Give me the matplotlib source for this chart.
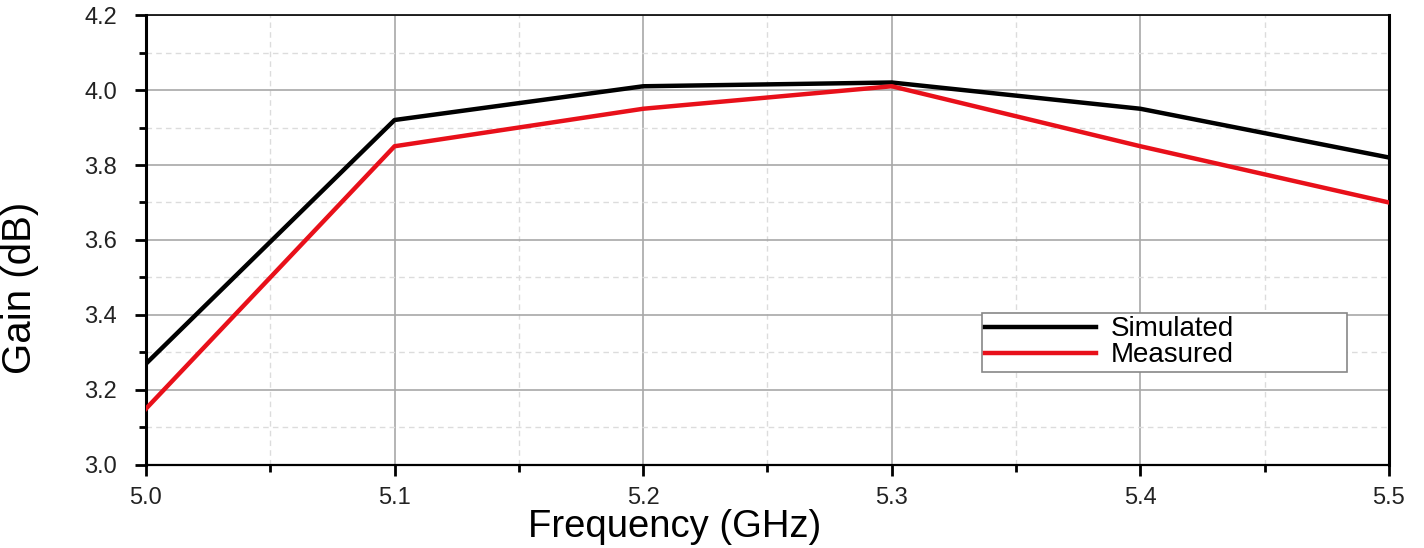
import matplotlib
matplotlib.use("Agg")
import matplotlib.pyplot as plt
from matplotlib.ticker import MultipleLocator

plt.rcParams["font.family"] = ["Liberation Sans", "DejaVu Sans"]

freq = [5.0, 5.1, 5.2, 5.3, 5.4, 5.5]
simulated = [3.27, 3.92, 4.01, 4.02, 3.95, 3.82]
measured = [3.15, 3.85, 3.95, 4.01, 3.85, 3.70]

fig = plt.figure(figsize=(14.24, 5.48), dpi=100)
ax = fig.add_axes([0.1025, 0.1515, 0.8729, 0.8211])

ax.plot(freq, simulated, color="black", lw=3.2, label="Simulated", zorder=3)
ax.plot(freq, measured, color="#e8101a", lw=3.2, label="Measured", zorder=3)

ax.set_xlim(5.0, 5.5)
ax.set_ylim(3.0, 4.2)
ax.xaxis.set_major_locator(MultipleLocator(0.1))
ax.xaxis.set_minor_locator(MultipleLocator(0.05))
ax.yaxis.set_major_locator(MultipleLocator(0.2))
ax.yaxis.set_minor_locator(MultipleLocator(0.1))
ax.xaxis.set_major_formatter(plt.FormatStrFormatter("%.1f"))
ax.yaxis.set_major_formatter(plt.FormatStrFormatter("%.1f"))

ax.grid(which="major", color="#a8a8a8", lw=1.2)
ax.grid(which="minor", color="#dcdcdc", lw=1, ls=(0, (4, 3)))
ax.set_axisbelow(True)

ax.tick_params(which="major", direction="out", length=8, width=2,
               labelsize=17, pad=8, labelcolor="#222222")
ax.tick_params(axis="y", which="major", pad=13)
ax.tick_params(which="minor", direction="out", length=5, width=2)
ax.spines["left"].set_linewidth(2.2)
ax.spines["right"].set_linewidth(2.2)
ax.spines["bottom"].set_linewidth(1.6)
ax.spines["top"].set_linewidth(1.2)

ax.set_xlabel("Frequency (GHz)", fontsize=27.5)
ax.xaxis.set_label_coords(0.4256, -0.098)
ax.set_ylabel("Gain (dB)", fontsize=29)
ax.yaxis.set_label_coords(-0.086, 0.393)

leg = ax.legend(loc="upper left", bbox_to_anchor=(0.6726, 0.2156, 0.2935, 0.1224),
                mode="expand", fontsize=20, fancybox=False, framealpha=1,
                edgecolor="#888888", handlelength=4.0, handletextpad=0.5,
                borderpad=0.12, labelspacing=0.0, borderaxespad=0)
leg.get_frame().set_linewidth(1.2)

fig.savefig("out.png", dpi=100)
